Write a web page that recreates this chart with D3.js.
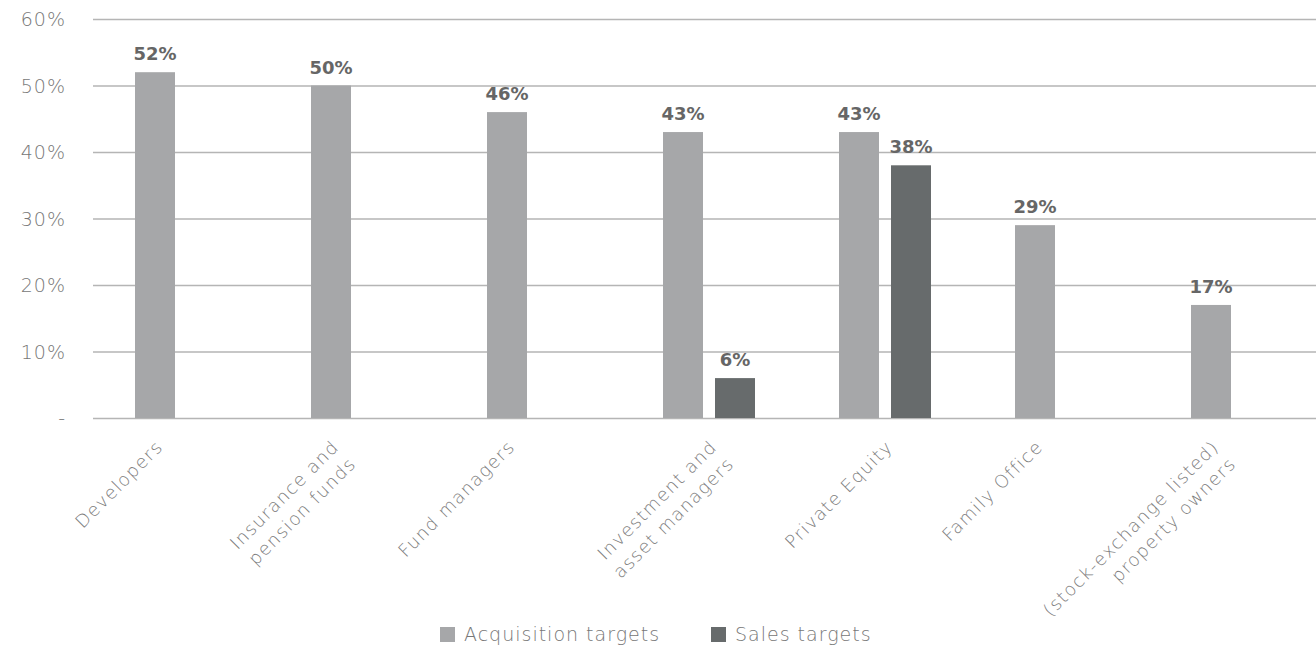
<!DOCTYPE html>
<html>
<head>
<meta charset="utf-8">
<script src="https://cdn.jsdelivr.net/npm/d3@7/dist/d3.min.js"></script>
<style>
  html, body { margin: 0; padding: 0; background: #fff; }
  svg { display: block; }
  .tick-label { font-family: "DejaVu Sans", sans-serif; font-weight: 200; font-size: 19px; letter-spacing: 1px; fill: #777; }
  .cat-label { font-family: "DejaVu Sans", sans-serif; font-weight: 200; font-size: 18px; letter-spacing: 1.3px; fill: #7c7c7c; }
  .value-label { font-family: "DejaVu Sans", sans-serif; font-weight: bold; font-size: 18px; fill: #666; }
  .legend-label { font-family: "DejaVu Sans", sans-serif; font-weight: 200; font-size: 19px; letter-spacing: 1px; fill: #777; }
</style>
</head>
<body>
<svg id="chart" width="1316" height="648"></svg>
<script>
// Investor groups (each label split into its displayed lines)
const categories = [
  "Developers",
  "Insurance and pension funds",
  "Fund managers",
  "Investment and asset managers",
  "Private Equity",
  "Family Office",
  "(stock-exchange listed) property owners"
];
const categoryLines = [
  ["Developers"],
  ["Insurance and", "pension funds"],
  ["Fund managers"],
  ["Investment and", "asset managers"],
  ["Private Equity"],
  ["Family Office"],
  ["(stock-exchange listed)", "property owners"]
];

const seriesNames = ["Acquisition targets", "Sales targets"];
const seriesColors = ["#a6a7a9", "#676b6c"];

// Share of respondents, in percent (null = no bar)
const acquisitionTargets = [52, 50, 46, 43, 43, 29, 17];
const salesTargets = [null, null, null, 6, 38, null, null];

const yTicks = [0, 10, 20, 30, 40, 50, 60];
const yTickLabels = ["-", "10%", "20%", "30%", "40%", "50%", "60%"];

const seriesValues = [acquisitionTargets, salesTargets];

const svg = d3.select("#chart");
const plotLeft = 93, plotRight = 1316, yTop = 19, yBottom = 418;

const y = d3.scaleLinear().domain([0, 60]).range([yBottom, yTop]);
const x0 = d3.scaleBand().domain(categories).range([plotLeft, plotLeft + 7 * 176]).padding(0);
const x1 = d3.scaleBand().domain(seriesNames).range([42, 134]).paddingInner(0.2308).paddingOuter(0);

// Horizontal gridlines and y tick labels
const yAxis = d3.axisLeft(y)
  .tickValues(yTicks)
  .tickSize(-(plotRight - plotLeft))
  .tickFormat((d, i) => yTickLabels[i]);

const gy = svg.append("g")
  .attr("transform", `translate(${plotLeft},0)`)
  .call(yAxis);
gy.select(".domain").remove();
gy.selectAll(".tick line").attr("stroke", "#b5b5b5").attr("stroke-width", 1.4);
gy.selectAll(".tick text")
  .attr("class", "tick-label")
  .attr("x", -27)
  .attr("dy", "0.35em")
  .attr("text-anchor", "end");

// Bars
const rows = categories.map((c, i) => ({
  category: c,
  lines: categoryLines[i],
  values: seriesNames.map((s, j) => ({ series: s, idx: j, value: seriesValues[j][i] }))
}));

const groups = svg.append("g").selectAll("g")
  .data(rows)
  .join("g")
  .attr("transform", d => `translate(${x0(d.category)},0)`);

groups.selectAll("rect")
  .data(d => d.values.filter(v => v.value != null))
  .join("rect")
  .attr("x", d => x1(d.series))
  .attr("width", x1.bandwidth())
  .attr("y", d => y(d.value))
  .attr("height", d => y(0) - y(d.value))
  .attr("fill", d => seriesColors[d.idx]);

groups.selectAll("text.value-label")
  .data(d => d.values.filter(v => v.value != null))
  .join("text")
  .attr("class", "value-label")
  .attr("x", d => x1(d.series) + x1.bandwidth() / 2)
  .attr("y", d => y(d.value) - 12)
  .attr("text-anchor", "middle")
  .text(d => d3.format(".0f")(d.value) + "%");

// Rotated category labels, anchored at the centre of the bars shown in each group
const labels = svg.append("g").selectAll("text")
  .data(rows)
  .join("text")
  .attr("class", "cat-label")
  .attr("text-anchor", "end")
  .attr("transform", d => {
    const shown = d.values.filter(v => v.value != null);
    const cx = x0(d.category) + d3.mean(shown, v => x1(v.series) + x1.bandwidth() / 2);
    return `translate(${cx + 9},${yBottom + 30}) rotate(-45)`;
  });

labels.selectAll("tspan")
  .data(d => d.lines)
  .join("tspan")
  .attr("x", 0)
  .attr("dy", (d, i) => i === 0 ? 0 : 24)
  .text(d => d);

// Legend
const legend = svg.append("g").attr("transform", "translate(440,627)");
const legendOffsets = [0, 271];
seriesNames.forEach((s, i) => {
  const g = legend.append("g").attr("transform", `translate(${legendOffsets[i]},0)`);
  g.append("rect").attr("width", 15).attr("height", 15).attr("fill", seriesColors[i]);
  g.append("text").attr("class", "legend-label").attr("x", 24).attr("y", 14).text(s);
});
</script>
</body>
</html>
